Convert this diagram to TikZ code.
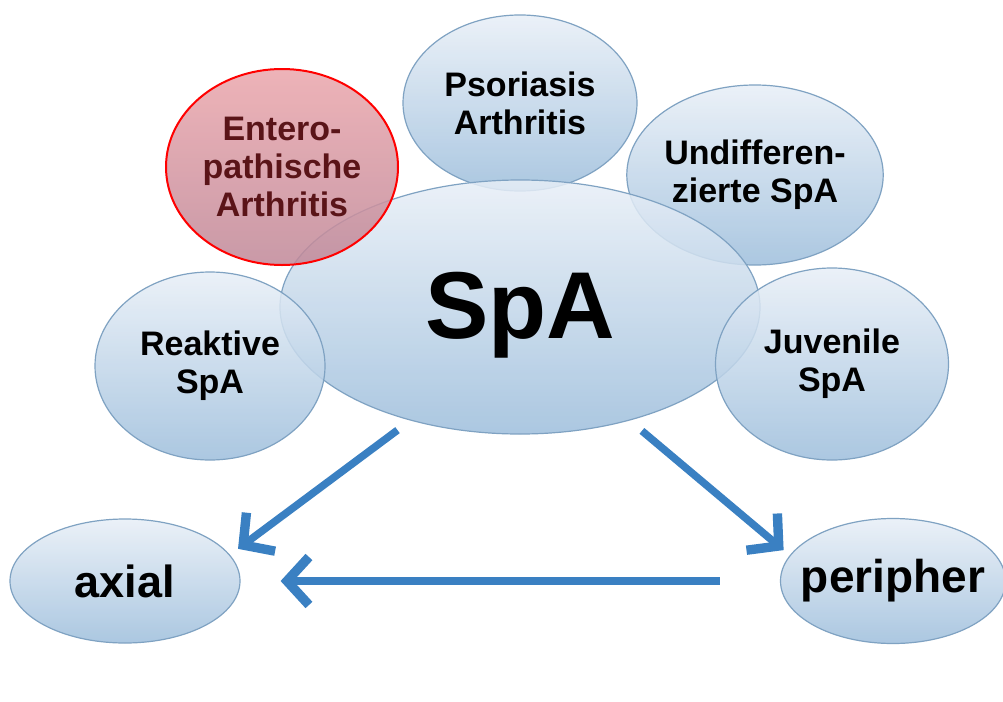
\documentclass[tikz,border=0pt]{standalone}
\usepackage{fontspec}
\setmainfont{Liberation Sans}
\usetikzlibrary{shapes.geometric,arrows.meta}
\tikzset{>=latex}
\definecolor{bubbleline}{HTML}{7FA2C2}
\definecolor{bubbletop}{HTML}{E8EFF7}
\definecolor{bubblebottom}{HTML}{9DBEDC}
\definecolor{flowblue}{HTML}{3A80C2}
\definecolor{enterotop}{HTML}{EBA6AC}
\definecolor{enterobottom}{HTML}{C08898}
\definecolor{enterotext}{HTML}{5A1418}
\tikzset{
  bubble/.style={ellipse, draw=bubbleline, line width=1.2pt,
    top color=bubbletop, bottom color=bubblebottom,
    fill opacity=0.85, text opacity=1, inner sep=0pt, align=center,
    font=\bfseries\fontsize{34}{38}\selectfont},
  flow/.style={draw=flowblue, line width=7.5pt,
    -{Straight Barb[length=22pt,width=48pt,line width=0pt 1.25]}},
}

\begin{document}
\begin{tikzpicture}[x=1pt,y=-1pt]
    \fill[white] (0,0) rectangle (1003,701);
    \useasboundingbox (0,0) rectangle (1003,701);
    \node[bubble, minimum width=234pt, minimum height=176pt] (psoriasis) at (520,103) {Psoriasis\\Arthritis};
    \node[bubble, minimum width=230pt, minimum height=180pt] (undiff) at (755,175) {Undifferen-\\zierte SpA};
    \node[bubble, minimum width=480pt, minimum height=254pt, text depth=4pt,
      font=\bfseries\fontsize{95}{100}\selectfont] (spa) at (520,307) {SpA};
    \node[bubble, minimum width=232pt, minimum height=196pt, draw=red, line width=2pt,
      top color=enterotop, bottom color=enterobottom, text=enterotext] (entero) at (282,167) {Entero-\\pathische\\Arthritis};
    \node[bubble, minimum width=230pt, minimum height=188pt] (reaktive) at (210,366) {Reaktive\\SpA};
    \node[bubble, minimum width=233pt, minimum height=192pt] (juvenile) at (832,364) {Juvenile\\SpA};
    \node[bubble, minimum width=230pt, minimum height=124pt, inner xsep=-20pt,
      font=\bfseries\fontsize{45}{50}\selectfont] (axial) at (125,581) {axial};
    \node[bubble, minimum width=225pt, minimum height=125pt, inner xsep=-20pt,
      font=\bfseries\fontsize{46}{50}\selectfont] (peripher) at (893,581) {peripher};
    \draw[flow, shorten <=16pt, shorten >=10pt] (spa.226) -- (axial.14);
    \draw[flow, shorten <=16pt, shorten >=8pt] (spa.314) -- (peripher.166);
    \draw[flow, shorten <=60pt, shorten >=40pt] (peripher.west) -- (axial.east);
\end{tikzpicture}
\end{document}
